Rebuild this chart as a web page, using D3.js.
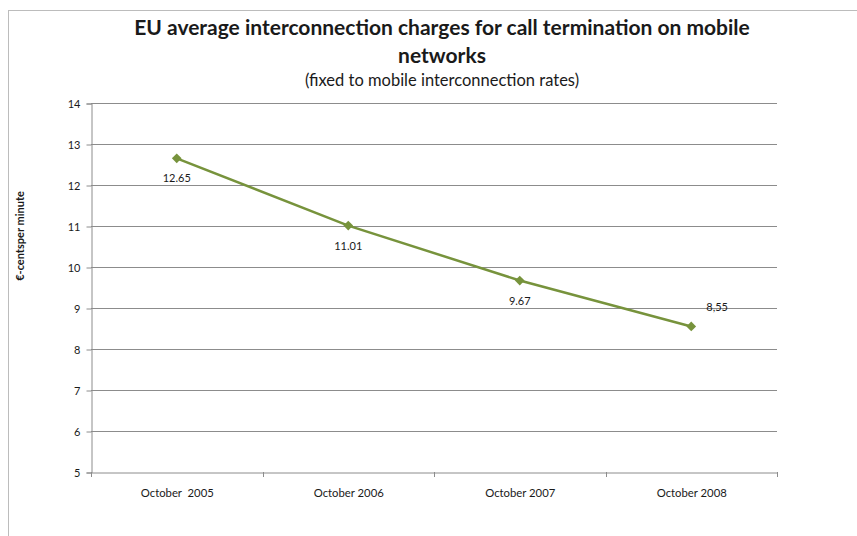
<!DOCTYPE html>
<html>
<head>
<meta charset="utf-8">
<script src="https://cdn.jsdelivr.net/npm/d3@7"></script>
<style>
  body { margin: 0; background: #fff; }
  svg { display: block; }
  text { font-family: Lato, "Open Sans", sans-serif; fill: #1a1a1a; }
</style>
</head>
<body>
<script>
// ---------------------- DATA ----------------------
const categories = ["October  2005", "October 2006", "October 2007", "October 2008"];
const values = [12.65, 11.01, 9.67, 8.55];
const valueLabels = ["12.65", "11.01", "9.67", "8,55"];
const yTicks = [5, 6, 7, 8, 9, 10, 11, 12, 13, 14];

// ---------------------- LAYOUT ----------------------
const width = 857, height = 536;
const plot = { left: 91, right: 777, top: 103, bottom: 472 };
const titleX = 442;

const svg = d3.select("body").append("svg")
    .attr("width", width)
    .attr("height", height);

// chart frame
svg.append("rect")
    .attr("x", 8.5).attr("y", 10.5)
    .attr("width", 900).attr("height", 600)
    .attr("fill", "none")
    .attr("stroke", "#bcbcbc")
    .attr("stroke-width", 1);

const x = d3.scaleBand()
    .domain(categories)
    .range([plot.left, plot.right]);

const y = d3.scaleLinear()
    .domain([5, 14])
    .range([plot.bottom, plot.top]);

// gridlines
svg.append("g")
    .selectAll("line")
    .data(yTicks.filter(d => d > 5))
    .enter().append("line")
    .attr("x1", plot.left).attr("x2", plot.right)
    .attr("y1", d => Math.round(y(d)) + 0.5)
    .attr("y2", d => Math.round(y(d)) + 0.5)
    .attr("stroke", "#8c8c8c")
    .attr("stroke-width", 1);

// y axis
const yAxis = svg.append("g")
    .attr("transform", `translate(${plot.left + 0.5},0.5)`)
    .call(d3.axisLeft(y).tickValues(yTicks).tickSize(5).tickPadding(6));
yAxis.select(".domain").attr("stroke", "#8c8c8c");
yAxis.selectAll(".tick line").attr("stroke", "#8c8c8c");
yAxis.selectAll(".tick text")
    .style("font-size", "11px")
    .style("font-family", "Lato, sans-serif")
    .attr("fill", "#222");

// x axis
const xAxis = svg.append("g")
    .attr("transform", `translate(0.5,${plot.bottom + 0.5})`)
    .call(d3.axisBottom(x).tickSize(0).tickPadding(16));
xAxis.select(".domain").attr("stroke", "#8c8c8c");
xAxis.selectAll(".tick text")
    .style("font-size", "11.3px")
    .style("font-family", "Lato, sans-serif")
    .style("white-space", "pre")
    .attr("fill", "#222");

// category separators on the x axis
svg.append("g")
    .selectAll("line")
    .data(categories.concat(["end"]))
    .enter().append("line")
    .attr("x1", (d, i) => Math.round(plot.left + i * x.bandwidth()) + 0.5)
    .attr("x2", (d, i) => Math.round(plot.left + i * x.bandwidth()) + 0.5)
    .attr("y1", plot.bottom)
    .attr("y2", plot.bottom + 5)
    .attr("stroke", "#8c8c8c");

// ---------------------- SERIES ----------------------
const points = categories.map((c, i) => ({ cat: c, v: values[i], label: valueLabels[i] }));

const line = d3.line()
    .x(d => x(d.cat) + x.bandwidth() / 2)
    .y(d => y(d.v));

svg.append("path")
    .datum(points)
    .attr("d", line)
    .attr("fill", "none")
    .attr("stroke", "#77933c")
    .attr("stroke-width", 2.5);

svg.append("g")
    .selectAll("path")
    .data(points)
    .enter().append("path")
    .attr("d", d3.symbol(d3.symbolDiamond2, 60)) // rough marker size
    .attr("transform", d => `translate(${x(d.cat) + x.bandwidth() / 2},${y(d.v)})`)
    .attr("fill", "#77933c");

// data labels: below for the first three, upper right for the last
svg.append("g")
    .selectAll("text")
    .data(points)
    .enter().append("text")
    .attr("x", (d, i) => x(d.cat) + x.bandwidth() / 2 + (i === 3 ? 15 : 0))
    .attr("y", (d, i) => y(d.v) + (i === 3 ? -15 : 24))
    .attr("text-anchor", (d, i) => i === 3 ? "start" : "middle")
    .style("font-size", "11px")
    .text(d => d.label);

// ---------------------- TITLES ----------------------
svg.append("text")
    .attr("x", titleX).attr("y", 35)
    .attr("text-anchor", "middle")
    .style("font-size", "21px")
    .style("font-weight", "bold")
    .text("EU average interconnection charges for call termination on mobile");

svg.append("text")
    .attr("x", titleX).attr("y", 63)
    .attr("text-anchor", "middle")
    .style("font-size", "21px")
    .style("font-weight", "bold")
    .text("networks");

svg.append("text")
    .attr("x", titleX).attr("y", 86)
    .attr("text-anchor", "middle")
    .style("font-size", "16.5px")
    .text("(fixed to mobile interconnection rates)");

svg.append("text")
    .attr("transform", "translate(24,236) rotate(-90)")
    .attr("text-anchor", "middle")
    .style("font-size", "11px")
    .style("font-weight", "bold")
    .text("€-centsper minute");
</script>
</body>
</html>
